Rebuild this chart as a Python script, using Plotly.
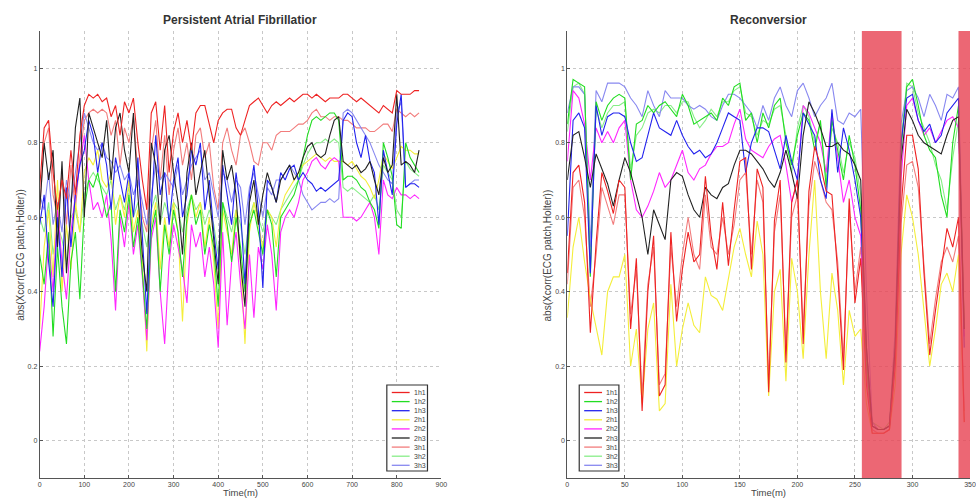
import plotly.graph_objects as go

# ---------------- data ----------------
names = ["1h1", "1h2", "1h3", "2h1", "2h2", "2h3", "3h1", "3h2", "3h3"]
colors = ["#ee2222", "#22dd22", "#2323ee", "#f4ee3a", "#ff26ff", "#222222",
          "#f27c7c", "#88ee88", "#8888f0"]

# Persistent AF panel: time in minutes (step 10)
t_af = list(range(0, 860, 10))
af_1h1 = [0.68,0.84,0.86,0.72,0.62,0.70,0.65,0.78,0.66,0.82,0.90,0.93,0.92,0.93,0.91,0.92,0.87,0.90,0.82,0.91,
          0.88,0.92,0.80,0.70,0.62,0.88,0.91,0.78,0.90,0.72,0.83,0.88,0.80,0.86,0.78,0.88,0.90,0.90,0.85,0.80,
          0.86,0.88,0.89,0.89,0.84,0.82,0.86,0.90,0.91,0.92,0.90,0.88,0.90,0.91,0.90,0.91,0.92,0.91,0.92,0.93,
          0.93,0.92,0.93,0.92,0.91,0.92,0.92,0.92,0.93,0.93,0.92,0.91,0.92,0.91,0.90,0.89,0.88,0.90,0.89,0.88,
          0.94,0.93,0.93,0.93,0.94,0.94]
af_1h2 = [0.50,0.42,0.56,0.28,0.52,0.36,0.26,0.48,0.56,0.38,0.62,0.70,0.68,0.72,0.66,0.60,0.64,0.40,0.62,0.56,
          0.66,0.52,0.60,0.44,0.30,0.56,0.62,0.40,0.58,0.50,0.62,0.56,0.44,0.60,0.66,0.58,0.62,0.50,0.58,0.52,
          0.36,0.64,0.58,0.48,0.60,0.52,0.40,0.58,0.62,0.56,0.50,0.62,0.58,0.44,0.60,0.62,0.64,0.66,0.70,0.76,
          0.82,0.86,0.87,0.86,0.87,0.88,0.88,0.86,0.70,0.71,0.71,0.70,0.68,0.67,0.64,0.62,0.57,0.80,0.76,0.71,
          0.58,0.57,0.80,0.76,0.74,0.72]
af_1h3 = [0.58,0.66,0.48,0.36,0.60,0.44,0.68,0.52,0.66,0.74,0.78,0.86,0.82,0.72,0.80,0.74,0.62,0.76,0.70,0.64,
          0.72,0.60,0.76,0.56,0.34,0.62,0.82,0.66,0.72,0.58,0.70,0.76,0.60,0.66,0.78,0.74,0.80,0.62,0.70,0.56,
          0.46,0.74,0.66,0.58,0.72,0.62,0.42,0.66,0.74,0.62,0.41,0.70,0.68,0.64,0.72,0.70,0.73,0.74,0.70,0.72,
          0.70,0.69,0.67,0.68,0.67,0.68,0.69,0.70,0.86,0.88,0.87,0.80,0.76,0.82,0.75,0.72,0.58,0.78,0.72,0.66,
          0.85,0.93,0.68,0.69,0.69,0.68]
af_2h1 = [0.30,0.52,0.62,0.44,0.70,0.40,0.58,0.46,0.64,0.56,0.72,0.76,0.74,0.78,0.70,0.68,0.72,0.58,0.66,0.60,
          0.70,0.56,0.62,0.48,0.24,0.58,0.64,0.46,0.60,0.52,0.64,0.56,0.32,0.58,0.66,0.60,0.64,0.52,0.60,0.48,
          0.30,0.62,0.56,0.50,0.62,0.48,0.26,0.56,0.64,0.58,0.52,0.62,0.60,0.52,0.62,0.66,0.68,0.70,0.72,0.74,
          0.75,0.76,0.77,0.76,0.75,0.76,0.75,0.75,0.75,0.74,0.75,0.73,0.71,0.70,0.68,0.65,0.70,0.77,0.75,0.73,
          0.76,0.79,0.78,0.78,0.77,0.77]
af_2h2 = [0.24,0.36,0.54,0.40,0.62,0.48,0.38,0.56,0.66,0.74,0.82,0.70,0.62,0.64,0.60,0.66,0.54,0.35,0.60,0.52,
          0.64,0.50,0.58,0.44,0.27,0.54,0.60,0.40,0.26,0.48,0.58,0.52,0.46,0.37,0.58,0.52,0.56,0.44,0.52,0.42,
          0.25,0.56,0.31,0.48,0.56,0.42,0.30,0.50,0.33,0.52,0.46,0.58,0.50,0.35,0.56,0.60,0.62,0.60,0.64,0.70,
          0.72,0.75,0.76,0.74,0.73,0.75,0.76,0.75,0.60,0.60,0.60,0.59,0.60,0.62,0.64,0.60,0.50,0.70,0.66,0.65,
          0.68,0.66,0.66,0.65,0.66,0.65]
af_2h3 = [0.62,0.80,0.70,0.78,0.52,0.75,0.45,0.62,0.84,0.92,0.60,0.88,0.84,0.80,0.76,0.86,0.70,0.84,0.88,0.78,
          0.72,0.88,0.66,0.50,0.40,0.80,0.74,0.58,0.78,0.82,0.72,0.64,0.50,0.72,0.80,0.66,0.72,0.78,0.66,0.54,
          0.42,0.78,0.70,0.74,0.66,0.48,0.36,0.64,0.70,0.58,0.66,0.72,0.68,0.64,0.70,0.72,0.74,0.70,0.72,0.76,
          0.79,0.80,0.77,0.76,0.77,0.82,0.86,0.87,0.75,0.74,0.73,0.74,0.72,0.73,0.75,0.70,0.66,0.76,0.72,0.74,
          0.93,0.74,0.75,0.74,0.72,0.78]
af_3h1 = [0.62,0.80,0.84,0.66,0.60,0.72,0.58,0.74,0.62,0.76,0.86,0.88,0.89,0.88,0.89,0.88,0.82,0.86,0.74,0.84,
          0.80,0.87,0.72,0.60,0.56,0.78,0.86,0.70,0.82,0.66,0.78,0.84,0.74,0.80,0.70,0.82,0.84,0.76,0.80,0.68,
          0.62,0.80,0.84,0.78,0.74,0.82,0.84,0.80,0.75,0.74,0.80,0.80,0.78,0.82,0.83,0.83,0.83,0.84,0.85,0.85,
          0.86,0.88,0.89,0.87,0.87,0.86,0.87,0.87,0.86,0.86,0.85,0.84,0.84,0.84,0.83,0.83,0.84,0.85,0.85,0.83,
          0.89,0.88,0.87,0.88,0.87,0.88]
af_3h2 = [0.60,0.56,0.64,0.50,0.58,0.54,0.48,0.60,0.62,0.56,0.66,0.70,0.72,0.70,0.68,0.66,0.70,0.62,0.66,0.62,
          0.68,0.60,0.64,0.58,0.52,0.62,0.66,0.58,0.64,0.60,0.64,0.62,0.56,0.62,0.66,0.62,0.64,0.58,0.62,0.58,
          0.50,0.64,0.60,0.56,0.62,0.58,0.50,0.60,0.64,0.60,0.56,0.62,0.60,0.58,0.62,0.64,0.66,0.68,0.70,0.74,
          0.77,0.79,0.80,0.80,0.81,0.80,0.81,0.80,0.68,0.67,0.68,0.67,0.66,0.65,0.64,0.66,0.62,0.74,0.72,0.70,
          0.62,0.60,0.75,0.73,0.72,0.71]
af_3h3 = [0.66,0.62,0.72,0.58,0.64,0.56,0.70,0.64,0.72,0.80,0.88,0.84,0.80,0.78,0.80,0.76,0.75,0.72,0.74,0.70,
          0.72,0.66,0.70,0.64,0.58,0.66,0.74,0.70,0.72,0.70,0.68,0.74,0.66,0.70,0.74,0.76,0.78,0.70,0.72,0.66,
          0.60,0.72,0.70,0.64,0.70,0.68,0.58,0.68,0.72,0.66,0.60,0.68,0.66,0.70,0.70,0.72,0.74,0.72,0.70,0.66,
          0.64,0.62,0.63,0.64,0.64,0.65,0.64,0.65,0.88,0.89,0.88,0.86,0.84,0.82,0.80,0.77,0.74,0.72,0.70,0.69,
          0.88,0.91,0.68,0.69,0.70,0.70]

# Reconversion panel: time in minutes (step 5)
t_rc = list(range(0, 350, 5))
rc_1h1 = [0.45,0.72,0.74,0.64,0.29,0.53,0.72,0.67,0.61,0.70,0.68,0.30,0.49,0.08,0.40,0.55,0.12,0.15,0.56,0.32,
          0.46,0.56,0.48,0.50,0.71,0.55,0.46,0.64,0.47,0.62,0.75,0.76,0.46,0.73,0.68,0.13,0.59,0.70,0.21,0.64,
          0.70,0.26,0.67,0.79,0.74,0.67,0.66,0.45,0.19,0.65,0.37,0.49,0.15,0.02,0.02,0.02,0.03,0.20,0.62,0.82,
          0.82,0.73,0.45,0.23,0.35,0.46,0.57,0.52,0.60,0.05]
rc_1h2 = [0.85,0.97,0.96,0.95,0.44,0.91,0.86,0.90,0.92,0.93,0.92,0.70,0.85,0.86,0.90,0.88,0.90,0.91,0.89,0.87,
          0.93,0.90,0.85,0.86,0.87,0.88,0.86,0.92,0.90,0.95,0.96,0.86,0.88,0.80,0.88,0.84,0.90,0.92,0.80,0.74,
          0.82,0.88,0.86,0.78,0.86,0.68,0.86,0.78,0.70,0.82,0.74,0.62,0.20,0.04,0.03,0.03,0.04,0.25,0.78,0.95,
          0.97,0.90,0.82,0.78,0.76,0.66,0.60,0.80,0.90,0.30]
rc_1h3 = [0.55,0.86,0.88,0.84,0.45,0.90,0.82,0.87,0.88,0.88,0.87,0.80,0.75,0.76,0.82,0.88,0.84,0.83,0.82,0.86,
          0.82,0.79,0.77,0.78,0.76,0.77,0.80,0.84,0.88,0.87,0.86,0.72,0.80,0.84,0.84,0.83,0.78,0.73,0.82,0.75,
          0.70,0.88,0.85,0.82,0.70,0.65,0.89,0.72,0.84,0.78,0.70,0.60,0.25,0.04,0.03,0.03,0.04,0.25,0.80,0.92,
          0.93,0.86,0.83,0.85,0.80,0.82,0.88,0.90,0.92,0.25]
rc_2h1 = [0.33,0.52,0.60,0.48,0.38,0.30,0.23,0.40,0.44,0.44,0.50,0.20,0.30,0.10,0.30,0.37,0.08,0.10,0.42,0.20,
          0.30,0.37,0.31,0.29,0.44,0.39,0.38,0.35,0.44,0.52,0.57,0.50,0.44,0.59,0.50,0.12,0.40,0.46,0.16,0.49,
          0.40,0.22,0.50,0.70,0.40,0.22,0.45,0.35,0.15,0.35,0.28,0.30,0.10,0.02,0.02,0.02,0.03,0.15,0.50,0.66,
          0.60,0.50,0.35,0.20,0.30,0.42,0.45,0.40,0.50,0.05]
rc_2h2 = [0.75,0.94,0.92,0.85,0.70,0.84,0.80,0.83,0.80,0.84,0.86,0.70,0.62,0.60,0.63,0.67,0.72,0.68,0.70,0.74,
          0.78,0.72,0.70,0.73,0.74,0.77,0.79,0.79,0.80,0.85,0.89,0.81,0.78,0.77,0.76,0.79,0.81,0.82,0.74,0.64,
          0.70,0.90,0.88,0.84,0.80,0.72,0.88,0.76,0.64,0.70,0.60,0.55,0.18,0.04,0.03,0.03,0.04,0.22,0.70,0.90,
          0.92,0.86,0.82,0.84,0.80,0.83,0.86,0.87,0.84,0.28]
rc_2h3 = [0.70,0.82,0.83,0.76,0.68,0.77,0.73,0.69,0.63,0.70,0.76,0.72,0.66,0.60,0.50,0.62,0.58,0.54,0.70,0.72,
          0.71,0.66,0.62,0.60,0.68,0.66,0.65,0.68,0.69,0.74,0.78,0.78,0.77,0.75,0.73,0.70,0.68,0.72,0.78,0.72,
          0.65,0.82,0.91,0.88,0.84,0.79,0.79,0.80,0.78,0.77,0.74,0.70,0.25,0.04,0.03,0.03,0.04,0.25,0.75,0.89,
          0.86,0.82,0.80,0.79,0.78,0.77,0.82,0.86,0.87,0.30]
rc_3h1 = [0.42,0.68,0.70,0.60,0.36,0.50,0.68,0.63,0.58,0.66,0.66,0.34,0.46,0.12,0.42,0.52,0.15,0.18,0.52,0.36,
          0.50,0.60,0.50,0.46,0.66,0.52,0.50,0.60,0.50,0.58,0.70,0.72,0.50,0.70,0.64,0.16,0.56,0.66,0.24,0.60,
          0.66,0.30,0.63,0.75,0.70,0.64,0.62,0.48,0.22,0.62,0.40,0.52,0.18,0.03,0.02,0.02,0.03,0.22,0.58,0.74,
          0.75,0.68,0.48,0.26,0.38,0.48,0.52,0.48,0.55,0.08]
rc_3h2 = [0.83,0.95,0.96,0.93,0.50,0.89,0.84,0.88,0.90,0.90,0.91,0.73,0.82,0.84,0.88,0.89,0.88,0.90,0.90,0.88,
          0.91,0.91,0.87,0.84,0.86,0.89,0.87,0.91,0.91,0.94,0.95,0.88,0.87,0.82,0.86,0.85,0.89,0.90,0.82,0.72,
          0.84,0.90,0.87,0.80,0.85,0.70,0.84,0.80,0.72,0.80,0.76,0.66,0.22,0.05,0.04,0.03,0.05,0.28,0.80,0.96,
          0.95,0.88,0.84,0.80,0.74,0.70,0.62,0.76,0.86,0.32]
rc_3h3 = [0.88,0.95,0.95,0.93,0.52,0.94,0.91,0.96,0.96,0.96,0.95,0.92,0.90,0.87,0.94,0.90,0.87,0.94,0.92,0.92,
          0.92,0.90,0.89,0.90,0.89,0.87,0.86,0.90,0.93,0.93,0.92,0.90,0.88,0.84,0.90,0.86,0.92,0.95,0.90,0.87,
          0.94,0.96,0.92,0.87,0.90,0.92,0.96,0.86,0.85,0.88,0.87,0.89,0.40,0.05,0.03,0.03,0.04,0.30,0.85,0.94,
          0.95,0.92,0.87,0.93,0.90,0.86,0.93,0.92,0.95,0.30]

af_series = [af_1h1, af_1h2, af_1h3, af_2h1, af_2h2, af_2h3, af_3h1, af_3h2, af_3h3]
rc_series = [rc_1h1, rc_1h2, rc_1h3, rc_2h1, rc_2h2, rc_2h3, rc_3h1, rc_3h2, rc_3h3]

# shaded intervals (minutes) in the reconversion panel
band_ranges = [(256, 290.5), (340, 400)]

y_ticks = [0, 0.2, 0.4, 0.6, 0.8, 1]
af_x_ticks = list(range(0, 1000, 100))
rc_x_ticks = list(range(0, 400, 50))

# ---------------- figure ----------------
W, H = 976, 498


def px(sx):  # pixel x -> paper x
    return sx / W


def py(sy):  # pixel y (from top) -> paper y
    return 1 - sy / H


fig = go.Figure()

# draw order: light ones first so darker lines sit on top
order = [6, 7, 8, 3, 4, 1, 2, 5, 0]
for i in order:
    fig.add_trace(go.Scatter(x=t_af, y=af_series[i], mode="lines", name=names[i],
                             line=dict(color=colors[i], width=1.1), showlegend=False,
                             xaxis="x", yaxis="y", hoverinfo="skip"))
for i in order:
    fig.add_trace(go.Scatter(x=t_rc, y=rc_series[i], mode="lines", name=names[i],
                             line=dict(color=colors[i], width=1.1), showlegend=False,
                             xaxis="x2", yaxis="y2", hoverinfo="skip"))

for (a, b) in band_ranges:
    fig.add_shape(type="rect", xref="x2", yref="y2", x0=a, x1=b, y0=-0.1, y1=1.1,
                  fillcolor="rgba(232,70,85,0.82)", line=dict(width=0), layer="above")

ydom = [py(478), py(31)]
tickfont = dict(family="Liberation Sans, Arial", size=7, color="#444")
axis_common = dict(showline=True, linecolor="#555", linewidth=1, mirror=False,
                   ticks="inside", ticklen=3, tickcolor="#555",
                   showgrid=True, gridcolor="#c8c8c8", griddash="dot", gridwidth=1,
                   zeroline=False, tickfont=tickfont)

fig.update_layout(
    width=W, height=H,
    margin=dict(l=0, r=0, t=0, b=0),
    paper_bgcolor="white", plot_bgcolor="white",
    showlegend=False,
    xaxis=dict(domain=[px(38), px(443)], range=[0, 900], tickvals=af_x_ticks, anchor="y", **axis_common),
    yaxis=dict(domain=ydom, range=[-0.1, 1.1], tickvals=y_ticks, anchor="x", **axis_common),
    xaxis2=dict(domain=[px(570), 1.0], range=[0, 350], tickvals=rc_x_ticks, anchor="y2", **axis_common),
    yaxis2=dict(domain=ydom, range=[-0.1, 1.1], tickvals=y_ticks, anchor="x2", **axis_common),
)

# legend boxes (one per panel), built from names / colors
leg_font = dict(family="Liberation Sans, Arial", size=7, color="#444")
for (lx0, lx1, sample0, sample1, tx) in [(388, 429, 393, 411, 413), (582, 622, 587, 605, 607)]:
    fig.add_shape(type="rect", xref="paper", yref="paper", x0=px(lx0), x1=px(lx1),
                  y0=py(471), y1=py(385), fillcolor="white",
                  line=dict(color="#333", width=1.2), layer="above")
    for k, (nm, col) in enumerate(zip(names, colors)):
        yy = 392.5 + k * 9.1
        fig.add_shape(type="line", xref="paper", yref="paper", x0=px(sample0), x1=px(sample1),
                      y0=py(yy), y1=py(yy), line=dict(color=col, width=1.3), layer="above")
        fig.add_annotation(text=nm, xref="paper", yref="paper", x=px(tx), y=py(yy),
                           showarrow=False, font=leg_font, xanchor="left", yanchor="middle")

title_font = dict(family="Liberation Sans, Arial", size=12, color="#333")
label_font = dict(family="Liberation Sans, Arial", size=9.5, color="#444")
ylab_font = dict(family="Liberation Sans, Arial", size=10, color="#444")
for txt, xc in [("<b>Persistent Atrial Fibrillatior</b>", 240), ("<b>Reconversior</b>", 773)]:
    fig.add_annotation(text=txt, xref="paper", yref="paper", x=px(xc), y=py(20),
                       showarrow=False, font=title_font, xanchor="center", yanchor="middle")
for xc in [240, 773]:
    fig.add_annotation(text="Time(m)", xref="paper", yref="paper", x=px(xc), y=py(492),
                       showarrow=False, font=label_font, xanchor="center", yanchor="middle")
for xc in [18, 550]:
    fig.add_annotation(text="abs(Xcorr(ECG patch,Holter))", xref="paper", yref="paper",
                       x=px(xc), y=py(255), textangle=-90, showarrow=False, font=ylab_font,
                       xanchor="center", yanchor="middle")

# remove the default page margin / scrollbars so the 976x498 figure fills the window exactly
fig.write_html(
    "out.html",
    config={"displayModeBar": False},
    post_script="document.body.style.margin='0px';document.body.style.overflow='hidden';"
                "document.documentElement.style.overflow='hidden';",
)
